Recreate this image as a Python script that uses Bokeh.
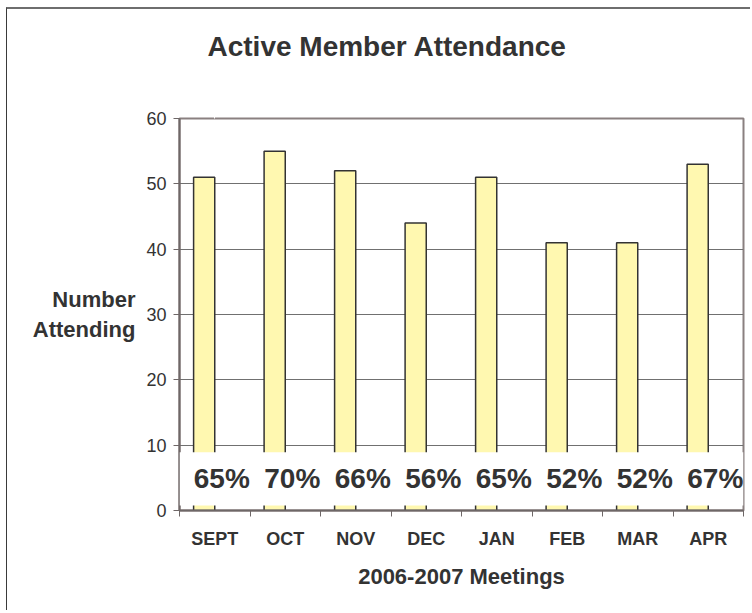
from bokeh.plotting import figure
from bokeh.models import FixedTicker, BoxAnnotation, ColumnDataSource, Range1d, LinearAxis, Title
from bokeh.transform import dodge
from bokeh.core.properties import value
from bokeh.embed import file_html
from bokeh.resources import INLINE

# ---- data ----
months = ["SEPT", "OCT", "NOV", "DEC", "JAN", "FEB", "MAR", "APR"]
attendance = [51, 55, 52, 44, 51, 41, 41, 53]
percent = [65, 70, 66, 56, 65, 52, 52, 67]
y_ticks = [0, 10, 20, 30, 40, 50, 60]

FONT = "Liberation Sans"
TXT = "#333333"

idx = list(range(len(months)))
src = ColumnDataSource(dict(
    x=idx,
    month=months,
    attend=attendance,
    pct_label=[f"{v}%" for v in percent],
))

W, H = 744, 603
p = figure(width=W, height=H, output_backend="svg", toolbar_location=None,
           title=None,
           x_range=Range1d(-0.5, len(months) - 0.5),
           y_range=Range1d(y_ticks[0], y_ticks[-1]),
           min_border_left=172, min_border_right=8,
           min_border_top=109, min_border_bottom=102)
p.styles = {"margin-left": "6px", "margin-top": "7px",
            "border-top": "2px solid #6e6e6e", "border-left": "1px solid #3a3a3a"}

p.background_fill_color = "white"
p.border_fill_color = "white"
p.outline_line_color = "#8a8080"
p.outline_line_width = 2

# bars
p.vbar(x=dodge("x", -0.15), top="attend", width=0.3, source=src,
       fill_color="#FFF8B0", line_color="#333333", line_width=1.5)

# white band hiding the lower part of bars
band = BoxAnnotation(left=-0.5, bottom=0.75, top=8.9,
                     fill_color="white", fill_alpha=1.0, line_alpha=0)
p.add_layout(band)

# percentage labels
r = p.text(x=dodge("x", 0.1), y=4.9, text="pct_label", source=src,
           text_font=value(FONT), text_font_style="bold",
           text_font_size="28px", text_color=TXT,
           text_align="center", text_baseline="middle")
r.level = "overlay"

# spacer axis between frame and title: one white tick (invisible on white) gives it height
spacer = LinearAxis(ticker=FixedTicker(ticks=[0]), major_label_overrides={0: ""},
                    major_label_text_font_size="1px", major_label_standoff=0,
                    major_tick_out=40, major_tick_in=0,
                    minor_tick_out=0, minor_tick_in=0,
                    axis_line_color=None, major_tick_line_color="white",
                    minor_tick_line_color=None)
p.add_layout(spacer, "above")

# title (outside the spacer)
title = Title(text="Active Member Attendance", text_font=FONT, text_font_size="28px",
              text_font_style="bold", text_color=TXT, align="left", offset=28,
              vertical_align="bottom", standoff=34)
p.add_layout(title, "above")

# y axis
p.yaxis.ticker = FixedTicker(ticks=y_ticks)
p.yaxis.axis_label = "Number\nAttending"
p.yaxis.axis_label_orientation = "horizontal"
p.yaxis.axis_label_text_font = FONT
p.yaxis.axis_label_text_font_size = "22px"
p.yaxis.axis_label_text_font_style = "bold"
p.yaxis.axis_label_text_color = TXT
p.yaxis.axis_label_standoff = 8
p.yaxis.major_label_text_font = FONT
p.yaxis.major_label_text_font_size = "18px"
p.yaxis.major_label_text_color = TXT
p.yaxis.major_label_standoff = 7
p.yaxis.major_tick_out = 6
p.yaxis.major_tick_in = 0
p.yaxis.minor_tick_out = 0
p.yaxis.minor_tick_in = 0
p.yaxis.axis_line_color = "#6e6767"
p.yaxis.axis_line_width = 2
p.yaxis.major_tick_line_color = "#6e6767"

# x axis (bottom): labels at centres, ticks at boundaries
xax = p.below[0]
xax.ticker = FixedTicker(ticks=idx, minor_ticks=[i - 0.5 for i in range(len(months) + 1)])
xax.major_label_overrides = {i: m for i, m in zip(idx, months)}
xax.axis_label = "2006-2007 Meetings"
xax.axis_label_text_font = FONT
xax.axis_label_text_font_size = "22px"
xax.axis_label_text_font_style = "bold"
xax.axis_label_text_color = TXT
xax.axis_label_standoff = 12
xax.major_label_text_font = FONT
xax.major_label_text_font_size = "18px"
xax.major_label_text_font_style = "bold"
xax.major_label_text_color = TXT
xax.major_label_standoff = 12
xax.major_tick_out = 0
xax.major_tick_in = 0
xax.minor_tick_out = 6
xax.minor_tick_in = 0
xax.minor_tick_line_color = "#6e6767"
xax.axis_line_color = "#6e6767"
xax.axis_line_width = 2

p.xgrid.visible = False
p.ygrid.grid_line_color = "#707070"
p.ygrid.grid_line_width = 1

open("out.html", "w").write(file_html(p, INLINE))
